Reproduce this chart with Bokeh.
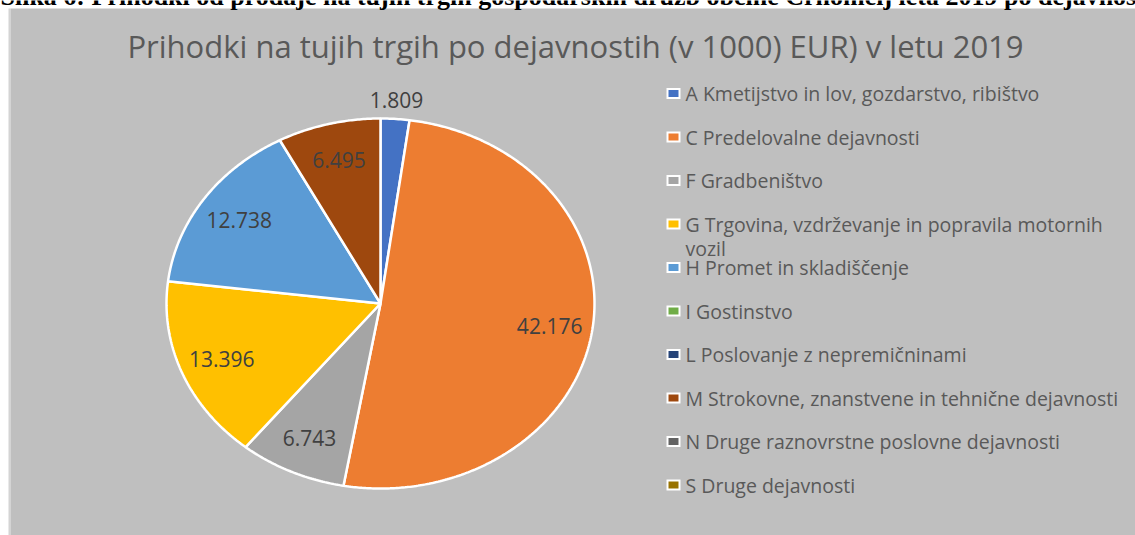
import textwrap
import numpy as np
from bokeh.plotting import figure
from bokeh.models import Range1d, BoxAnnotation
from bokeh.core.properties import value
from bokeh.embed import file_html
from bokeh.resources import INLINE

# ---- data ----
caption_text = ("Slika 6: Prihodki od prodaje na tujih trgih gospodarskih družb "
                "občine Črnomelj leta 2019 po dejavnostih")
title_text = "Prihodki na tujih trgih po dejavnostih (v 1000) EUR) v letu 2019"
categories = [
    "A Kmetijstvo in lov, gozdarstvo, ribištvo",
    "C Predelovalne dejavnosti",
    "F Gradbeništvo",
    "G Trgovina, vzdrževanje in popravila motornih vozil",
    "H Promet in skladiščenje",
    "I Gostinstvo",
    "L Poslovanje z nepremičninami",
    "M Strokovne, znanstvene in tehnične dejavnosti",
    "N Druge raznovrstne poslovne dejavnosti",
    "S Druge dejavnosti",
]
values = [1809, 42176, 6743, 13396, 12738, 0, 0, 6495, 0, 0]
value_labels = ["1.809", "42.176", "6.743", "13.396", "12.738", "", "", "6.495", "", ""]
colors = ["#4472C4", "#ED7D31", "#A5A5A5", "#FFC000", "#5B9BD5",
          "#70AD47", "#264478", "#9E480E", "#636363", "#997300"]

# ---- layout ----
W, H = 1135, 535
FONT = "Open Sans"
cx, cy, rx, ry = 380.0, 303.0, 214.0, 185.0

p = figure(width=W, height=H, output_backend="svg", toolbar_location=None,
           x_range=Range1d(0, W), y_range=Range1d(H, 0),
           min_border=0, outline_line_color=None,
           background_fill_color="white", border_fill_color="white")
p.axis.visible = False
p.grid.visible = False

# chart area background
p.add_layout(BoxAnnotation(left=8, right=10, top=8, bottom=H, fill_color="#D4D4D4",
                           fill_alpha=1, line_color=None, level="underlay"))
p.add_layout(BoxAnnotation(left=10, right=W, top=8, bottom=H, fill_color="#BFBFBF",
                           fill_alpha=1, line_color=None, level="underlay"))

# document caption (only its lower part is visible above the chart, as in the source)
p.text(x=[0], y=[-4], text=[caption_text], text_font=value("Liberation Serif"),
       text_font_style="bold", text_font_size="26px", text_color="black",
       text_align="left", text_baseline="alphabetic")

# title
p.text(x=[575], y=[45], text=[title_text], text_font=value(FONT),
       text_font_size="31px", text_color="#595959",
       text_align="center", text_baseline="middle")

# pie wedges (clockwise from top)
vals = np.array(values, dtype=float)
total = vals.sum()
ends = np.cumsum(vals) / total * 2 * np.pi
starts = ends - vals / total * 2 * np.pi
xs, ys, fills = [], [], []
lx, ly, lt = [], [], []
for i, v in enumerate(vals):
    if v <= 0:
        continue
    th = np.linspace(starts[i], ends[i], max(int(np.degrees(ends[i] - starts[i])) * 2, 4))
    xs.append(list(np.concatenate([[cx], cx + rx * np.sin(th), [cx]])))
    ys.append(list(np.concatenate([[cy], cy - ry * np.cos(th), [cy]])))
    fills.append(colors[i])
    mid = (starts[i] + ends[i]) / 2
    f = 1.1 if v / total < 0.03 else 0.8
    lx.append(cx + f * rx * np.sin(mid))
    ly.append(cy - f * ry * np.cos(mid))
    lt.append(value_labels[i])

p.patches(xs=xs, ys=ys, fill_color=fills, line_color="white", line_width=2.5)
p.text(x=lx, y=ly, text=lt, text_font=value(FONT), text_font_size="21px",
       text_color="#404040", text_align="center", text_baseline="middle")

# legend
lg_x0, lg_y0, lg_dy = 673.0, 93.0, 43.5
sq_y = [lg_y0 + i * lg_dy for i in range(len(categories))]
p.rect(x=[lg_x0] * len(categories), y=sq_y, width=14, height=11,
       fill_color="white", line_color=None)
p.rect(x=[lg_x0] * len(categories), y=sq_y, width=10, height=7,
       fill_color=colors, line_color=None)
tx, ty, tt = [], [], []
for i, c in enumerate(categories):
    for j, line in enumerate(textwrap.wrap(c, 48)):
        tx.append(lg_x0 + 12)
        ty.append(sq_y[i] + j * 24)
        tt.append(line)
p.text(x=tx, y=ty, text=tt, text_font=value(FONT), text_font_size="19.5px",
       text_color="#595959", text_align="left", text_baseline="middle")

open("out.html", "w").write(file_html(p, INLINE))
